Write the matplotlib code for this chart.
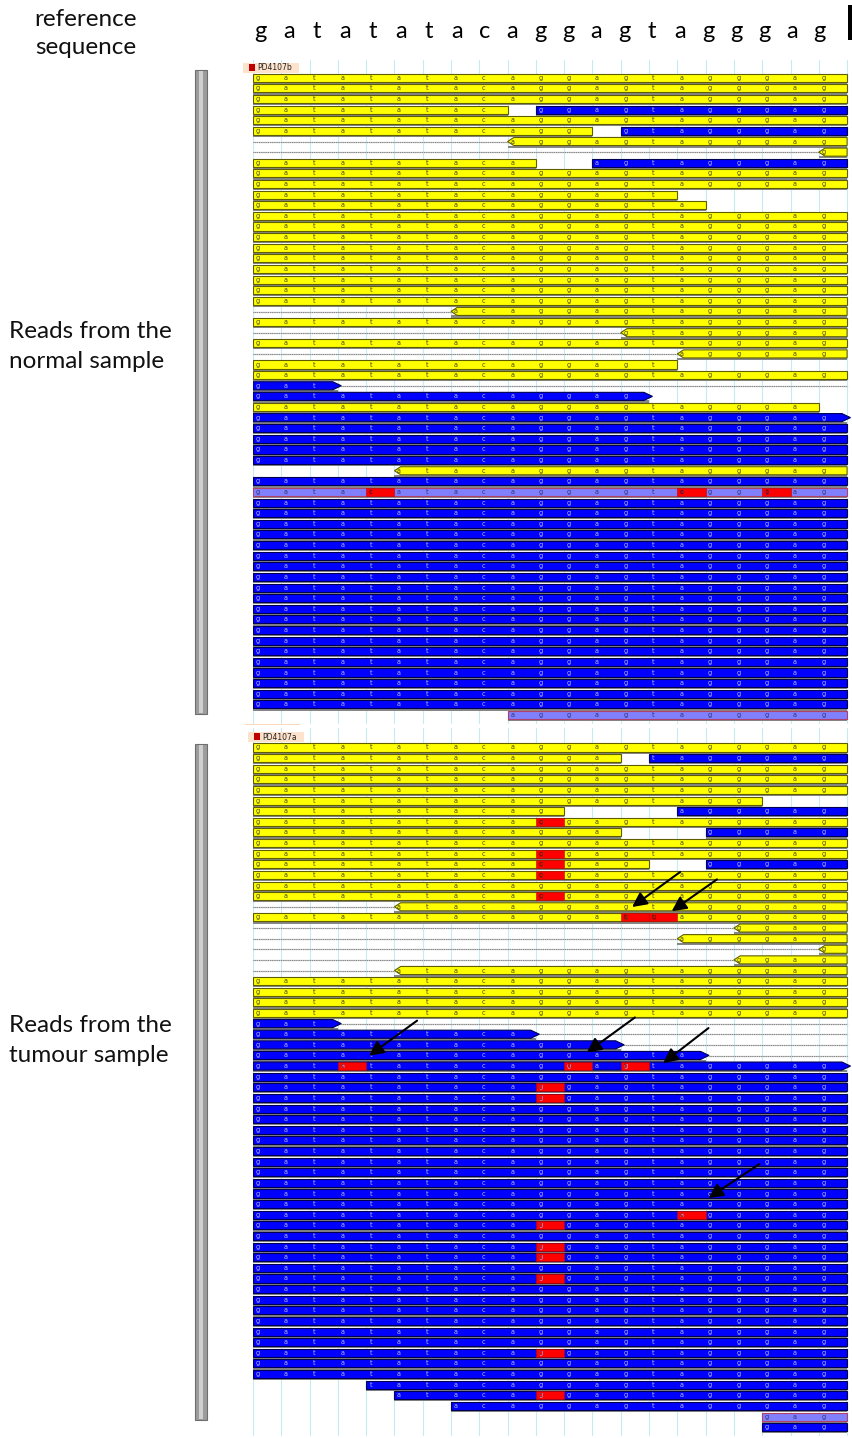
import matplotlib
matplotlib.use("Agg")
import matplotlib.pyplot as plt
import matplotlib.patches as mpatches

# ── Reference and read layout (columns 0..20, rows from top) ────────────────
REF = "gatatatacaggagtagggag"

# (row, start_col, end_col, colour, kind)
# kind: "box" plain read, "rev" reverse read with dotted mate line to the left,
#       "rev_solo" reverse read without mate line, "fwd" forward read with
#       dotted mate line to the right, "fwd_solo" forward read without mate line
normal_reads = [
    (0, 0, 21, "Y", "box"), (1, 0, 21, "Y", "box"), (2, 0, 21, "Y", "box"),
    (3, 0, 9, "Y", "box"), (3, 10, 21, "B", "box"),
    (4, 0, 21, "Y", "box"),
    (5, 0, 12, "Y", "box"), (5, 13, 21, "B", "box"),
    (6, 9, 21, "Y", "rev"), (7, 20, 21, "Y", "rev"),
    (8, 0, 10, "Y", "box"), (8, 12, 21, "B", "box"),
    (9, 0, 21, "Y", "box"), (10, 0, 21, "Y", "box"),
    (11, 0, 15, "Y", "box"), (12, 0, 16, "Y", "box"),
    (13, 0, 21, "Y", "box"), (14, 0, 21, "Y", "box"), (15, 0, 21, "Y", "box"),
    (16, 0, 21, "Y", "box"), (17, 0, 21, "Y", "box"), (18, 0, 21, "Y", "box"),
    (19, 0, 21, "Y", "box"), (20, 0, 21, "Y", "box"), (21, 0, 21, "Y", "box"),
    (22, 7, 21, "Y", "rev"), (23, 0, 21, "Y", "box"), (24, 13, 21, "Y", "rev"),
    (25, 0, 21, "Y", "box"), (26, 15, 21, "Y", "rev"), (27, 0, 15, "Y", "box"),
    (28, 0, 21, "Y", "box"),
    (29, 0, 3, "B", "fwd"), (30, 0, 14, "B", "fwd_solo"),
    (31, 0, 20, "Y", "box"), (32, 0, 21, "B", "fwd_solo"),
    (33, 0, 21, "B", "box"), (34, 0, 21, "B", "box"), (35, 0, 21, "B", "box"),
    (36, 0, 21, "B", "box"), (37, 5, 21, "Y", "rev_solo"),
    (38, 0, 21, "B", "box"), (39, 0, 21, "P", "box"),
] + [(r, 0, 21, "B", "box") for r in range(40, 60)] + [(60, 9, 21, "P", "box")]

# (row, col, base)
normal_mismatch = [(39, 4, "c"), (39, 15, "c"), (39, 18, "t")]

tumour_reads = [
    (0, 0, 21, "Y", "box"),
    (1, 0, 13, "Y", "box"), (1, 14, 21, "B", "box"),
    (2, 0, 21, "Y", "box"), (3, 0, 21, "Y", "box"), (4, 0, 21, "Y", "box"),
    (5, 0, 18, "Y", "box"),
    (6, 0, 11, "Y", "box"), (6, 15, 21, "B", "box"),
    (7, 0, 21, "Y", "box"),
    (8, 0, 13, "Y", "box"), (8, 16, 21, "B", "box"),
    (9, 0, 21, "Y", "box"), (10, 0, 21, "Y", "box"),
    (11, 0, 14, "Y", "box"), (11, 16, 21, "B", "box"),
    (12, 0, 21, "Y", "box"), (13, 0, 21, "Y", "box"), (14, 0, 21, "Y", "box"),
    (15, 5, 21, "Y", "rev"), (16, 0, 21, "Y", "box"),
    (17, 17, 21, "Y", "rev"), (18, 15, 21, "Y", "rev"), (19, 20, 21, "Y", "rev"),
    (20, 17, 21, "Y", "rev"), (21, 5, 21, "Y", "rev"),
    (22, 0, 21, "Y", "box"), (23, 0, 21, "Y", "box"), (24, 0, 21, "Y", "box"),
    (25, 0, 21, "Y", "box"),
    (26, 0, 3, "B", "fwd"), (27, 0, 10, "B", "fwd"), (28, 0, 13, "B", "fwd"),
    (29, 0, 16, "B", "fwd"), (30, 0, 21, "B", "fwd_solo"),
] + [(r, 0, 21, "B", "box") for r in range(31, 60)] + [
    (60, 4, 21, "B", "box"), (61, 5, 21, "B", "box"), (62, 7, 21, "B", "box"),
    (63, 18, 21, "P", "box"), (64, 18, 21, "B", "box"),
]

tumour_mismatch = [
    (7, 10, "c"), (10, 10, "c"), (11, 10, "c"), (12, 10, "c"), (14, 10, "c"),
    (16, 13, "t"), (16, 14, "g"),
    (30, 3, "c"), (30, 11, "t"), (30, 13, "t"),
    (32, 10, "c"), (33, 10, "c"), (44, 15, "c"), (45, 10, "c"), (47, 10, "c"),
    (48, 10, "c"), (50, 10, "c"), (57, 10, "c"), (61, 10, "c"),
]

# annotation arrows in the tumour panel: (col_from, row_from, col_to, row_to)
tumour_arrows = [
    (15.1, 11.7, 13.4, 15.0), (16.4, 12.4, 14.8, 15.4),
    (5.8, 25.7, 4.1, 29.0), (13.5, 25.4, 11.8, 28.7),
    (16.1, 26.4, 14.5, 29.7), (17.9, 39.2, 16.1, 42.4),
]

FILL = {"Y": "#ffff00", "B": "#0000ff", "P": "#8080ff"}
EDGE = {"Y": "#5e5e00", "B": "#000050", "P": "#b0406a"}
LETTER = {"Y": "#44441a", "B": "#b8b8ff", "P": "#303070"}

W, H = 853, 1438
COL_PX = 28.29
ROW_PX = 10.62
X0 = 253

fig = plt.figure(figsize=(W / 100, H / 100), dpi=100)
fig.patch.set_facecolor("white")


def fx(x):
    return x / W


def fy(y):
    return 1 - y / H


def make_panel(top_px, bottom_px, first_row_px):
    ax = fig.add_axes([fx(X0), fy(bottom_px), (W - X0) / W, (bottom_px - top_px) / H])
    ax.set_xlim(0, (W - X0) / COL_PX)
    ax.set_ylim((bottom_px - first_row_px) / ROW_PX, (top_px - first_row_px) / ROW_PX)
    ax.axis("off")
    for k in range(22):
        ax.axvline(k, color="#c6ecf3", lw=0.8, zorder=0)
    return ax


def draw_reads(ax, reads, mismatches):
    top, bot = -0.40, 0.36
    for row, s, e, c, kind in reads:
        y0, y1 = row + top, row + bot
        if kind.startswith("rev"):
            pts = [(s, row - 0.02), (s + 0.22, y0), (e, y0), (e, y1), (s + 0.22, y1)]
        elif kind.startswith("fwd"):
            tip = e + 0.12
            pts = [(s, y0), (tip - 0.3, y0), (tip, row - 0.02), (tip - 0.3, y1), (s, y1)]
        else:
            pts = [(s, y0), (e, y0), (e, y1), (s, y1)]
        ax.add_patch(mpatches.Rectangle((s, y1), e - s, 0.2, facecolor="#868686",
                                        edgecolor="none", zorder=1))
        ax.add_patch(mpatches.Polygon(pts, closed=True, facecolor=FILL[c],
                                      edgecolor=EDGE[c], lw=0.8, zorder=2))
        if kind == "rev":
            ax.plot([0, s], [row, row], color="#cccccc", lw=1.0, zorder=1)
            ax.plot([0, s], [row, row], color="#666666", lw=0.6,
                    ls=(0, (1, 1.2)), zorder=1)
        if kind == "fwd":
            ax.plot([e + 0.12, 21], [row, row], color="#cccccc", lw=1.0, zorder=1)
            ax.plot([e + 0.12, 21], [row, row], color="#666666", lw=0.6,
                    ls=(0, (1, 1.2)), zorder=1)
        for col in range(int(s), min(int(e + 0.5), 21)):
            if col + 0.3 > e:
                continue
            ax.text(col + 0.16, row - 0.02, REF[col], fontsize=4.7, color=LETTER[c],
                    ha="center", va="center", zorder=4)
    for row, col, base in mismatches:
        ax.add_patch(mpatches.Rectangle((col, row - 0.40), 1, 0.76, facecolor="#ff0000",
                                        edgecolor="#c00000", lw=0.4, zorder=3))
        ax.text(col + 0.16, row - 0.02, base, fontsize=4.7, color="#700000",
                ha="center", va="center", zorder=5)


ax_n = make_panel(60, 724, 78.0)
draw_reads(ax_n, normal_reads, normal_mismatch)

ax_t = make_panel(728, 1436, 747.7)
draw_reads(ax_t, tumour_reads, tumour_mismatch)
for c0, r0, c1, r1 in tumour_arrows:
    ax_t.annotate("", xy=(c1, r1), xytext=(c0, r0), zorder=6,
                  arrowprops=dict(arrowstyle="-|>", color="black", lw=1.5,
                                  mutation_scale=22, shrinkA=0, shrinkB=0))

# reference sequence on top
for i, base in enumerate(REF):
    ax_n.text(i + 0.28 - 0.012 * i, (32 - 78.0) / ROW_PX, base, fontsize=17,
              family="Lato", ha="center", va="center", color="black", clip_on=False)

# left labels
label_font = dict(family="Lato", fontsize=17.5, color="#111111")
fig.text(fx(86), fy(19), "reference", ha="center", va="center", **label_font)
fig.text(fx(86), fy(48), "sequence", ha="center", va="center", **label_font)
fig.text(fx(9), fy(331), "Reads from the", ha="left", va="center", **label_font)
fig.text(fx(9), fy(362), "normal sample", ha="left", va="center", **label_font)
fig.text(fx(9), fy(1026), "Reads from the", ha="left", va="center", **label_font)
fig.text(fx(9), fy(1056), "tumour sample", ha="left", va="center", **label_font)

# grey brackets beside each panel
for top, bot in [(70, 714), (744, 1420)]:
    fig.patches.append(mpatches.Rectangle((fx(195), fy(bot)), 12 / W, (bot - top) / H,
                                          transform=fig.transFigure, facecolor="#9c9c9c",
                                          edgecolor="#6e6e6e", lw=0.8))
    fig.patches.append(mpatches.Rectangle((fx(199), fy(bot - 1)), 4 / W, (bot - top - 2) / H,
                                          transform=fig.transFigure, facecolor="#cfcfcf",
                                          edgecolor="none"))

# sample tags
for x, y, name in [(243, 68, "PD4107b"), (248, 737.5, "PD4107a")]:
    fig.patches.append(mpatches.Rectangle((fx(x), fy(y + 5)), 56 / W, 10 / H,
                                          transform=fig.transFigure, facecolor="#fde2cc",
                                          edgecolor="none"))
    fig.patches.append(mpatches.Rectangle((fx(x + 6), fy(y + 3)), 6 / W, 7 / H,
                                          transform=fig.transFigure, facecolor="#c00000",
                                          edgecolor="none"))
    fig.text(fx(x + 14), fy(y), name, fontsize=5.5, ha="left", va="center", color="#222222")
fig.patches.append(mpatches.Rectangle((fx(245), fy(725)), 55 / W, 1.5 / H,
                                      transform=fig.transFigure, facecolor="#fcd9bd",
                                      edgecolor="none"))

# small black mark at the top-right corner
fig.patches.append(mpatches.Rectangle((fx(848), fy(40)), 5 / W, 35 / H,
                                      transform=fig.transFigure, facecolor="black",
                                      edgecolor="none"))

fig.savefig("out.png", dpi=100, facecolor="white")
